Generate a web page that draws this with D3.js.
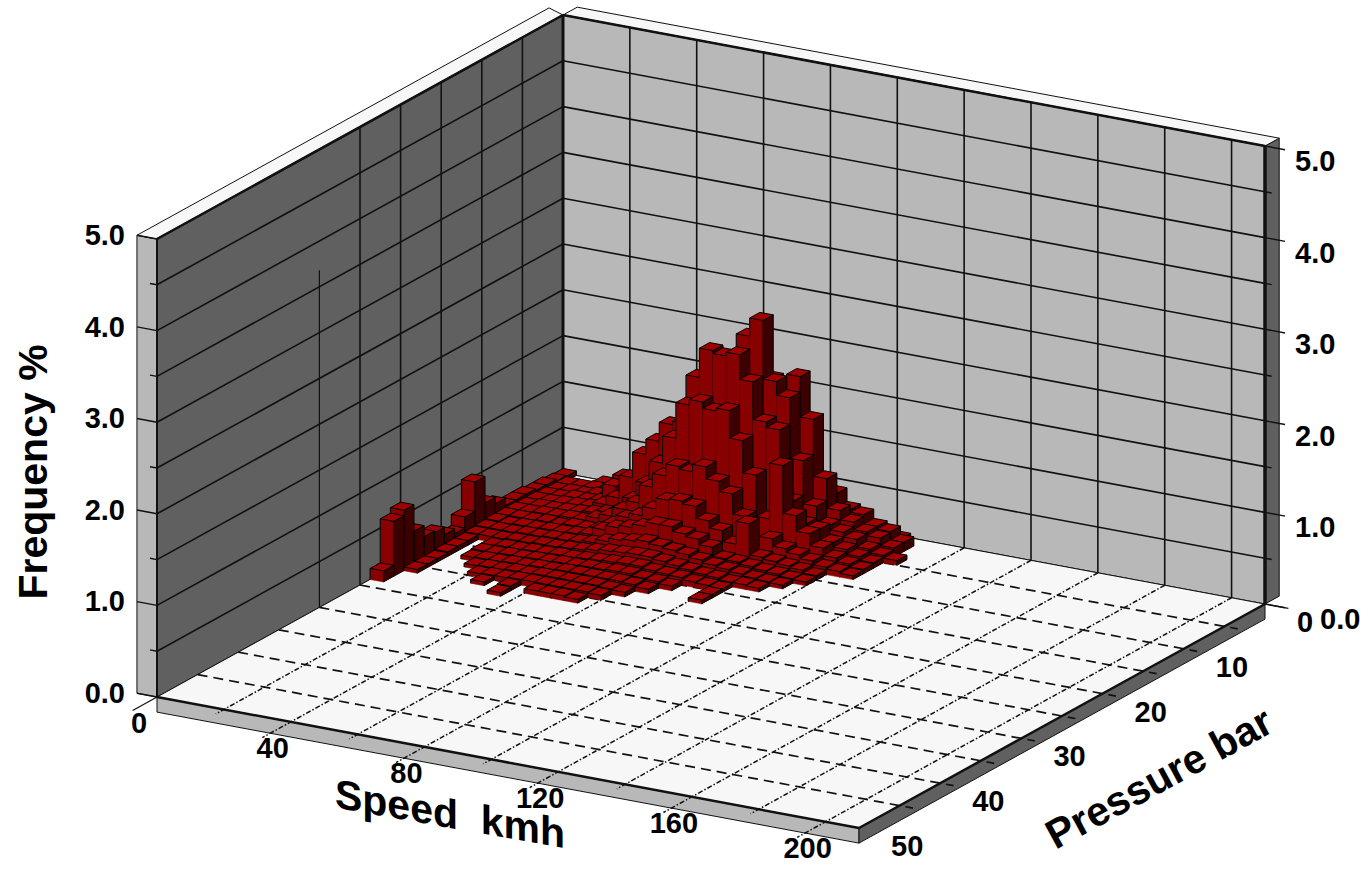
<!DOCTYPE html>
<html>
<head>
<meta charset="utf-8">
<script src="https://cdn.jsdelivr.net/npm/d3@7"></script>
<style>
    body { margin: 0; background: #fff; }
    text { font-family: "Liberation Sans", Arial, sans-serif; font-weight: bold; fill: #000; }
</style>
</head>
<body>
<svg id="chart"></svg>
<script>
// tick labels
var speedTicks = [0, 40, 80, 120, 160, 200];
var pressureTicks = [0, 10, 20, 30, 40, 50];
var freqTicks = [0, 1, 2, 3, 4, 5];

var speedBin = 4;      // km/h per bar
var pressureBin = 1.25; // bar per bar

// frequency in hundredths of a percent, one row per pressure bin, one column per speed bin
var row00 = [5, 0, 0, 5, 6, 5, 6, 8, 10, 10, 12, 14, 20, 25, 30, 40, 50, 60, 50, 45, 30, 25, 15, 10, 8, 5, 0, 0];
var row01 = [6, 5, 5, 6, 6, 8, 10, 12, 15, 18, 22, 28, 40, 55, 70, 85, 95, 100, 95, 90, 60, 50, 35, 32, 22, 19, 10, 0];
var row02 = [8, 5, 6, 6, 8, 10, 33, 18, 22, 28, 35, 50, 80, 100, 130, 150, 160, 170, 150, 178, 134, 72, 40, 30, 22, 18, 10, 0];
var row03 = [8, 6, 6, 8, 8, 10, 29, 20, 30, 45, 60, 85, 130, 150, 190, 195, 220, 240, 176, 161, 95, 48, 30, 25, 20, 12, 8, 5];
var row04 = [10, 7, 7, 8, 9, 10, 15, 25, 50, 78, 95, 116, 120, 173, 205, 202, 206, 179, 138, 132, 57, 35, 32, 20, 15, 10, 6, 0];
var row05 = [10, 7, 8, 8, 9, 10, 12, 15, 20, 35, 55, 80, 110, 149, 155, 148, 151, 121, 86, 41, 102, 50, 33, 20, 12, 8, 5, 0];
var row06 = [10, 8, 8, 9, 9, 10, 10, 15, 20, 30, 40, 60, 75, 88, 85, 93, 80, 69, 47, 14, 28, 20, 16, 12, 8, 6, 4, 0];
var row07 = [18, 8, 8, 8, 9, 8, 10, 10, 12, 20, 30, 35, 45, 57, 59, 56, 43, 35, 23, 48, 14, 12, 10, 8, 5, 0, 0, 0];
var row08 = [25, 8, 7, 8, 8, 9, 9, 10, 12, 20, 25, 28, 32, 37, 37, 32, 29, 23, 13, 12, 10, 8, 7, 5, 4, 0, 0, 0];
var row09 = [54, 7, 7, 7, 8, 8, 9, 9, 10, 12, 16, 20, 22, 24, 22, 20, 18, 15, 12, 10, 8, 6, 5, 4, 0, 0, 0, 0];
var row10 = [22, 6, 6, 6, 7, 7, 8, 8, 9, 10, 12, 14, 15, 16, 16, 14, 12, 10, 8, 7, 5, 5, 4, 0, 0, 0, 0, 0];
var row11 = [10, 5, 0, 5, 6, 6, 7, 7, 8, 8, 9, 10, 11, 12, 12, 10, 9, 8, 6, 5, 4, 0, 0, 0, 0, 0, 0, 0];
var row12 = [15, 5, 0, 5, 5, 6, 6, 7, 7, 8, 8, 9, 9, 10, 10, 8, 7, 5, 0, 0, 4, 0, 0, 0, 0, 0, 0, 0];
var row13 = [23, 5, 0, 4, 5, 5, 6, 6, 7, 7, 8, 8, 8, 8, 8, 7, 5, 0, 0, 0, 4, 0, 0, 0, 0, 0, 0, 0];
var row14 = [25, 4, 0, 0, 4, 5, 5, 6, 6, 7, 7, 7, 7, 7, 6, 5, 0, 0, 0, 0, 0, 0, 0, 0, 0, 0, 0, 0];
var row15 = [37, 4, 0, 0, 0, 4, 5, 5, 6, 6, 6, 6, 6, 6, 5, 0, 0, 0, 0, 0, 0, 0, 0, 0, 0, 0, 0, 0];
var row16 = [66, 4, 0, 0, 0, 0, 4, 0, 5, 0, 5, 5, 5, 4, 0, 0, 0, 0, 0, 0, 0, 0, 0, 0, 0, 0, 0, 0];
var row17 = [60, 0, 0, 0, 0, 0, 0, 0, 4, 0, 0, 0, 0, 0, 0, 0, 0, 0, 0, 0, 0, 0, 0, 0, 0, 0, 0, 0];
var row18 = [12, 0, 0, 0, 0, 0, 0, 0, 0, 0, 0, 0, 0, 0, 0, 0, 0, 0, 0, 0, 0, 0, 0, 0, 0, 0, 0, 0];
var rows = [row00, row01, row02, row03, row04, row05, row06, row07, row08, row09,
    row10, row11, row12, row13, row14, row15, row16, row17, row18];

var totalWidth = 1368;
var totalHeight = 871;

var svg = d3.select("#chart")
    .attr("width", totalWidth)
    .attr("height", totalHeight)
    .style("display", "block");

// oblique projection, the floor is a parallelogram and verticals stay vertical
var speedMax = 210, pressureMax = 50, freqMax = 5;
var originX = 563, originY = 473;
var speedX = d3.scaleLinear().domain([0, speedMax]).range([0, 702]);
var speedY = d3.scaleLinear().domain([0, speedMax]).range([0, 131]);
var pressureX = d3.scaleLinear().domain([0, pressureMax]).range([0, -406]);
var pressureY = d3.scaleLinear().domain([0, pressureMax]).range([0, 224]);
var freqY = d3.scaleLinear().domain([0, freqMax]).range([0, -458]);

function project(s, p, f) {
    return [originX + speedX(s) + pressureX(p), originY + speedY(s) + pressureY(p) + freqY(f)];
}

function poly(points, fill, stroke, width) {
    svg.append("polygon")
        .attr("points", points.map(function (d) { return project(d[0], d[1], d[2]).join(","); }).join(" "))
        .attr("fill", fill)
        .attr("stroke", stroke)
        .attr("stroke-width", width)
        .attr("stroke-linejoin", "round");
}

function seg(a, b, width, dash) {
    var pa = project(a[0], a[1], a[2]);
    var pb = project(b[0], b[1], b[2]);
    var l = svg.append("line")
        .attr("x1", pa[0]).attr("y1", pa[1])
        .attr("x2", pb[0]).attr("y2", pb[1])
        .attr("stroke", "#111")
        .attr("stroke-width", width);
    if (dash) l.attr("stroke-dasharray", dash);
}

var wallBack = -1.75;  // back wall thickness, in bar
var wallLeft = -6;     // left wall thickness, in km/h
var slab = -0.165;     // floor thickness, in percent

// walls and caps
poly([[0, 0, 0], [0, pressureMax, 0], [0, pressureMax, freqMax], [0, 0, freqMax]], "#606060", "#111", 1);
poly([[0, 0, 0], [speedMax, 0, 0], [speedMax, 0, freqMax], [0, 0, freqMax]], "#b8b8b8", "#111", 1);
poly([[wallLeft, pressureMax, 0], [0, pressureMax, 0], [0, pressureMax, freqMax], [wallLeft, pressureMax, freqMax]], "#b8b8b8", "#111", 1);
poly([[speedMax, wallBack, 0], [speedMax, 0, 0], [speedMax, 0, freqMax], [speedMax, wallBack, freqMax]], "#606060", "#111", 1);
poly([[wallLeft, pressureMax, freqMax], [0, pressureMax, freqMax], [0, 0, freqMax], [wallLeft, wallBack + 1, freqMax]], "#f7f7f7", "#111", 1);
poly([[0, wallBack, freqMax], [speedMax, wallBack, freqMax], [speedMax, 0, freqMax], [0, 0, freqMax]], "#f7f7f7", "#111", 1);

// floor and slab
poly([[0, 0, 0], [speedMax, 0, 0], [speedMax, pressureMax, 0], [0, pressureMax, 0]], "#f7f7f7", "#111", 1);
poly([[0, pressureMax, 0], [speedMax, pressureMax, 0], [speedMax, pressureMax, slab], [0, pressureMax, slab]], "#b8b8b8", "#111", 1);
poly([[speedMax, pressureMax, 0], [speedMax, 0, 0], [speedMax, 0, slab], [speedMax, pressureMax, slab]], "#606060", "#111", 1);

// wall grid
d3.range(0.5, freqMax + 0.01, 0.5).forEach(function (f) {
    seg([0, 0, f], [0, pressureMax, f], 1.6);
    seg([0, 0, f], [speedMax, 0, f], 1.6);
});
d3.range(0, freqMax + 0.01, 0.5).forEach(function (f) {
    var major = f % 1 === 0;
    seg([speedMax, 0, f], [speedMax + (major ? 6 : 2), 0, f], 1.4);
    seg([0, pressureMax, f], [major ? wallLeft : wallLeft * 0.35, pressureMax, f], 1.4);
});
d3.range(20, speedMax, 20).forEach(function (s) {
    seg([s, 0, 0], [s, 0, freqMax], 1.6);
});
d3.range(5, 30, 5).forEach(function (p) {
    seg([0, p, 0], [0, p, freqMax], 1.6);
});
seg([0, 30, 0], [0, 30, 3.68], 1.2);

// floor grid
d3.range(5, pressureMax, 5).forEach(function (p) {
    seg([0, p, 0], [speedMax + 4, p, 0], 1.7, "10 6");
});
d3.range(20, speedMax, 20).forEach(function (s) {
    seg([s, 0, 0], [s, pressureMax + (s % 40 === 0 ? 3.5 : 1), 0], 1.5, "5 2 1.5 2");
});

// heavy edges
seg([0, 0, 0], [0, 0, freqMax], 3);
seg([0, pressureMax, 0], [0, pressureMax, freqMax], 2);
seg([speedMax, 0, 0], [speedMax, 0, freqMax], 3.5);
seg([0, 0, freqMax], [0, pressureMax, freqMax], 2.5);
seg([0, 0, freqMax], [speedMax, 0, freqMax], 2.5);
seg([0, pressureMax, 0], [speedMax, pressureMax, 0], 2.5);
seg([speedMax, pressureMax, 0], [speedMax, 0, 0], 2.5);
seg([0, pressureMax, 0], [0, pressureMax + 3, 0], 1.2);
seg([speedMax, 0, 0], [speedMax + 7, 0, 0], 1.2);

// bars, back corner first so the nearer ones paint over
var cells = [];
rows.forEach(function (row, j) {
    row.forEach(function (v, i) {
        if (v > 0) cells.push({ i: i, j: j, f: v / 100 });
    });
});
cells.sort(function (a, b) { return (a.i + a.j) - (b.i + b.j); });
cells.forEach(function (d) {
    var s0 = d.i * speedBin, s1 = s0 + speedBin;
    var p0 = d.j * pressureBin, p1 = p0 + pressureBin;
    // front faces merge with a same-height neighbour, edge line only where the left neighbour is lower
    poly([[s0, p1, 0], [s1, p1, 0], [s1, p1, d.f], [s0, p1, d.f]], "#880000", "#880000", 0.6);
    var left = d.i > 0 ? rows[d.j][d.i - 1] / 100 : 0;
    if (left < d.f) seg([s0, p1, left], [s0, p1, d.f], 1.2);
    poly([[s1, p1, 0], [s1, p0, 0], [s1, p0, d.f], [s1, p1, d.f]], "#3c0000", "#000", 1);
    poly([[s0, p0, d.f], [s1, p0, d.f], [s1, p1, d.f], [s0, p1, d.f]], "#a00000", "#000", 1);
});

// tick labels
var tickSize = 29;
speedTicks.forEach(function (s) {
    var q = project(s, pressureMax, 0);
    svg.append("text").attr("x", q[0] - 18).attr("y", q[1] + 26)
        .attr("text-anchor", "middle").attr("dominant-baseline", "central")
        .attr("font-size", tickSize).text(s);
});
pressureTicks.forEach(function (p) {
    var q = project(speedMax, p, 0);
    svg.append("text").attr("x", q[0] + 32).attr("y", q[1] + 18)
        .attr("text-anchor", "start").attr("dominant-baseline", "central")
        .attr("font-size", tickSize).text(p);
});
freqTicks.forEach(function (f) {
    var q = project(0, pressureMax, f);
    svg.append("text").attr("x", q[0] - 32).attr("y", q[1] - 4)
        .attr("text-anchor", "end").attr("dominant-baseline", "central")
        .attr("font-size", tickSize).text(f.toFixed(1));
    var r = project(speedMax, 0, f);
    svg.append("text").attr("x", r[0] + (f === 0 ? 55 : 30)).attr("y", r[1] + 15)
        .attr("text-anchor", "start").attr("dominant-baseline", "central")
        .attr("font-size", tickSize).text(f.toFixed(1));
});

// axis titles
svg.append("text")
    .attr("transform", "translate(33,472) rotate(-90)")
    .attr("text-anchor", "middle").attr("dominant-baseline", "central")
    .attr("font-size", 41).text("Frequency %");
svg.append("text")
    .attr("transform", "translate(450,814) skewY(10)")
    .attr("text-anchor", "middle").attr("dominant-baseline", "central")
    .attr("font-size", 41).style("white-space", "pre").text("Speed  kmh");
svg.append("text")
    .attr("transform", "translate(1159,778) rotate(-28.5)")
    .attr("text-anchor", "middle").attr("dominant-baseline", "central")
    .attr("font-size", 41).text("Pressure bar");
</script>
</body>
</html>
